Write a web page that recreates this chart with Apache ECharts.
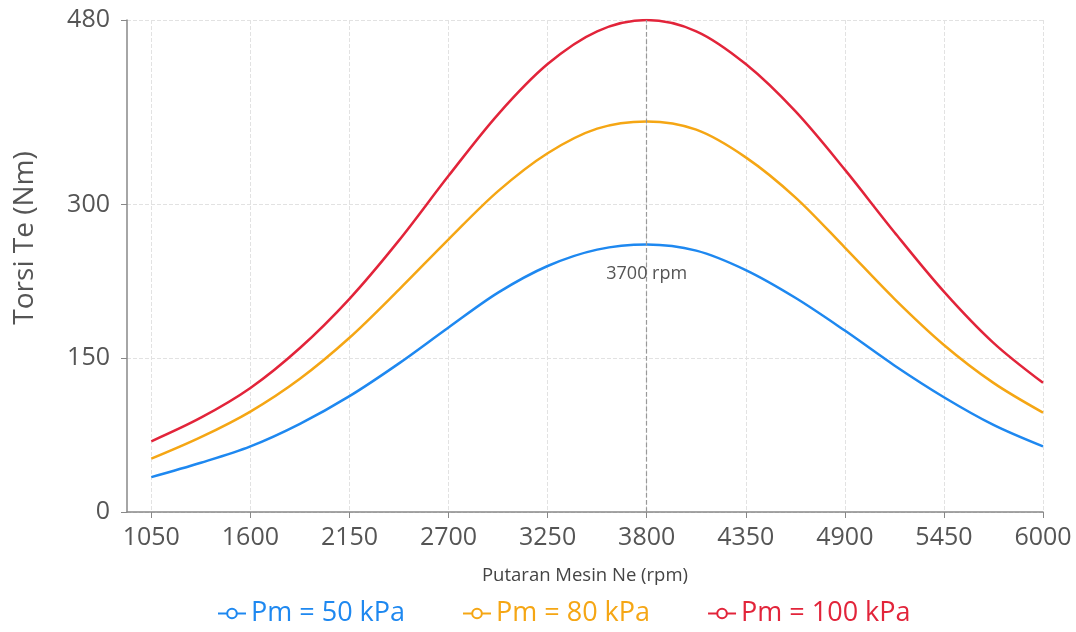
<!DOCTYPE html>
<html>
<head>
<meta charset="utf-8">
<script src="https://cdn.jsdelivr.net/npm/echarts@6/dist/echarts.min.js"></script>
<style>
  html, body { margin: 0; padding: 0; background: #fff; }
  #myChart { width: 1076px; height: 632px; }
</style>
</head>
<body>
<div id="myChart"></div>
<script>
// putaran mesin (rpm)
var rpmData = [1050, 1325, 1600, 1875, 2150, 2425, 2700, 2975, 3250, 3525, 3800, 4075, 4350, 4625, 4900, 5175, 5450, 5725, 6000];
// torsi (Nm) tiap tekanan
var torsi50 = [34, 48, 64, 86, 113, 145, 180, 214, 240, 256, 261, 255, 236, 209, 177, 143, 112, 85, 64];
var torsi80 = [52, 73, 98, 130, 170, 217, 266, 313, 350, 374, 381, 373, 346, 307, 258, 208, 163, 126, 97];
var torsi100 = [69, 92, 121, 160, 208, 265, 328, 388, 437, 469, 480, 469, 437, 391, 334, 273, 215, 165, 126];
// label sumbu
var xTicks = [1050, 1600, 2150, 2700, 3250, 3800, 4350, 4900, 5450, 6000];
var yTicks = [0, 150, 300, 480];
var seriesNames = ['Pm = 50 kPa', 'Pm = 80 kPa', 'Pm = 100 kPa'];
var peakRpm = 3800;
var peakLabel = '3700 rpm';

var colors = ['#1E88F0', '#F5A614', '#E2243A'];
var fontFamily = "'Segoe UI', 'Open Sans', 'Noto Sans', sans-serif";

function pairs(ys) {
	var out = [];
	for (var i = 0; i < rpmData.length; i++) {
		out.push([rpmData[i], ys[i]]);
	}
	return out;
}

function plain(v) {
	return String(v);
}

var myChart = echarts.init(document.getElementById('myChart'));
var option = {
	color: colors,
	textStyle: { fontFamily: fontFamily },
	grid: {
		left: 127,
		right: 33,
		top: 20,
		bottom: 120
	},
	legend: {
		bottom: 0,
		left: 212,
		itemWidth: 28,
		itemHeight: 12,
		itemGap: 57,
		textStyle: { fontSize: 27, fontFamily: fontFamily },
		data: [
			{ name: seriesNames[0], textStyle: { color: colors[0] } },
			{ name: seriesNames[1], textStyle: { color: colors[1] } },
			{ name: seriesNames[2], textStyle: { color: colors[2] } }
		]
	},
	xAxis: {
		type: 'value',
		min: 915,
		max: 6000,
		name: 'Putaran Mesin Ne (rpm)',
		nameLocation: 'middle',
		nameGap: 54,
		nameTextStyle: { fontSize: 18.5, color: '#444' },
		axisLine: { lineStyle: { color: '#888', width: 1.5 } },
		axisTick: { show: true, length: 6, customValues: xTicks, lineStyle: { color: '#888' } },
		axisLabel: { customValues: xTicks, formatter: plain, fontSize: 25, color: '#555', margin: 13 },
		splitLine: { show: true, lineStyle: { type: 'dashed', color: '#e2e2e2' } }
	},
	yAxis: {
		type: 'value',
		min: 0,
		max: 480,
		name: 'Torsi Te (Nm)',
		nameLocation: 'middle',
		nameGap: 88,
		nameTextStyle: { fontSize: 28, color: '#555', padding: [0, 0, 0, 56] },
		axisLine: { show: true, lineStyle: { color: '#888', width: 1.5 } },
		axisTick: { show: true, length: 6, customValues: yTicks, lineStyle: { color: '#888' } },
		axisLabel: { customValues: yTicks, formatter: plain, fontSize: 25, color: '#555', margin: 17 },
		splitLine: { show: true, lineStyle: { type: 'dashed', color: '#e2e2e2' } }
	},
	series: [{
		name: seriesNames[0],
		type: 'line',
		smooth: 0.33,
		showSymbol: false,
		data: pairs(torsi50),
		lineStyle: { width: 2.5 },
		markPoint: {
			symbol: 'circle',
			symbolSize: 1,
			itemStyle: { color: 'rgba(0,0,0,0)' },
			label: {
				show: true,
				position: 'bottom',
				distance: 20,
				formatter: peakLabel,
				fontSize: 18,
				color: '#555'
			},
			data: [{ coord: [peakRpm, torsi50[rpmData.indexOf(peakRpm)]] }]
		},
		markLine: {
			silent: true,
			symbol: 'none',
			lineStyle: { type: 'dashed', color: '#999', width: 1.2 },
			label: { show: false },
			data: [{ xAxis: peakRpm }]
		}
	}, {
		name: seriesNames[1],
		type: 'line',
		smooth: 0.33,
		showSymbol: false,
		data: pairs(torsi80),
		lineStyle: { width: 2.5 }
	}, {
		name: seriesNames[2],
		type: 'line',
		smooth: 0.33,
		showSymbol: false,
		data: pairs(torsi100),
		lineStyle: { width: 2.5 }
	}]
};

myChart.setOption(option);
</script>
</body>
</html>
